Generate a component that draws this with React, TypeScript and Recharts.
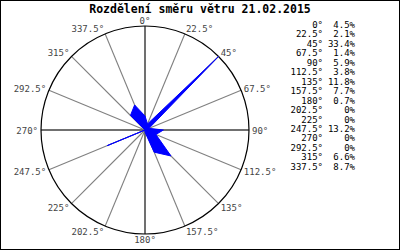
import React from 'react';
import { RadarChart, Radar, PolarGrid, PolarAngleAxis, PolarRadiusAxis } from 'recharts';

// smery vetru a jejich podil v %
const directions = ['0', '22.5', '45', '67.5', '90', '112.5', '135', '157.5', '180', '202.5', '225', '247.5', '270', '292.5', '315', '337.5'];
const shares = [4.5, 2.1, 33.4, 1.4, 5.9, 3.8, 11.8, 7.7, 0.7, 0, 0, 13.2, 0, 0, 6.6, 8.7];
const shareLabels = ['4.5%', '2.1%', '33.4%', '1.4%', '5.9%', '3.8%', '11.8%', '7.7%', '0.7%', '0%', '0%', '13.2%', '0%', '0%', '6.6%', '8.7%'];

const title = 'Rozdělení směru větru 21.02.2015';

const CX = 145;
const CY = 130;
const R = 104;
const MONO = '"DejaVu Sans Mono", "Liberation Mono", monospace';

const data = directions.map((d, i) => ({ dir: d, value: shares[i] }));

const AngleTick = (props: any) => {
  const { x, y, payload } = props;
  const dx = x - CX;
  const dy = y - CY;
  const len = Math.sqrt(dx * dx + dy * dy) || 1;
  const ux = dx / len;
  const uy = dy / len;
  // bod na kruznici
  const px = CX + ux * R;
  const py = CY + uy * R;
  let anchor: 'start' | 'middle' | 'end' = 'middle';
  if (ux > 0.05) anchor = 'start';
  else if (ux < -0.05) anchor = 'end';
  return (
    <text
      x={px + ux * 3}
      y={py + uy * 5.5 + 0.5}
      textAnchor={anchor}
      dominantBaseline="central"
      fontFamily={MONO}
      fontSize={9}
      fill="#444"
    >
      {payload.value}°
    </text>
  );
};

export default function App() {
  return (
    <div
      style={{
        position: 'absolute',
        left: 0,
        top: 0,
        width: 400,
        height: 250,
        background: '#fff',
        border: '1px solid #000',
        boxSizing: 'border-box',
      }}
    >
      <div style={{ position: 'absolute', left: -1, top: -1 }}>
        <RadarChart width={400} height={250} data={data} cx={CX} cy={CY} outerRadius={R} margin={{ top: 0, right: 0, bottom: 0, left: 0 }}>
          <PolarGrid gridType="circle" polarRadius={[]} stroke="#808080" strokeWidth={1.1} />
          <PolarGrid gridType="circle" polarRadius={[]} polarAngles={[0, 90, 180, 270]} stroke="#707070" strokeWidth={2} />
          <PolarGrid gridType="circle" polarRadius={[R]} radialLines={false} stroke="#000" strokeWidth={1.2} />
          <PolarAngleAxis dataKey="dir" tick={<AngleTick />} tickLine={false} axisLine={false} tickSize={8} />
          <PolarRadiusAxis domain={[0, 33.4]} tick={false} axisLine={false} />
          <Radar
            dataKey="value"
            fill="#0000ff"
            fillOpacity={1}
            stroke="#0000ff"
            strokeWidth={1}
            dot={false}
            isAnimationActive={false}
          />
        </RadarChart>
      </div>
      <svg width={400} height={250} style={{ position: 'absolute', left: -1, top: -1, pointerEvents: 'none' }}>
        <text x={200} y={9} textAnchor="middle" dominantBaseline="central" fontFamily={MONO} fontWeight="bold" fontSize={11.5} fill="#000">
          {title}
        </text>
        {directions.map((d, i) => (
          <g key={d}>
            <text x={323} y={25 + i * 9.45} textAnchor="end" dominantBaseline="central" fontFamily={MONO} fontSize={9} fill="#000">
              {d}°
            </text>
            <text x={355} y={25 + i * 9.45} textAnchor="end" dominantBaseline="central" fontFamily={MONO} fontSize={9} fill="#000">
              {shareLabels[i]}
            </text>
          </g>
        ))}
      </svg>
    </div>
  );
}
